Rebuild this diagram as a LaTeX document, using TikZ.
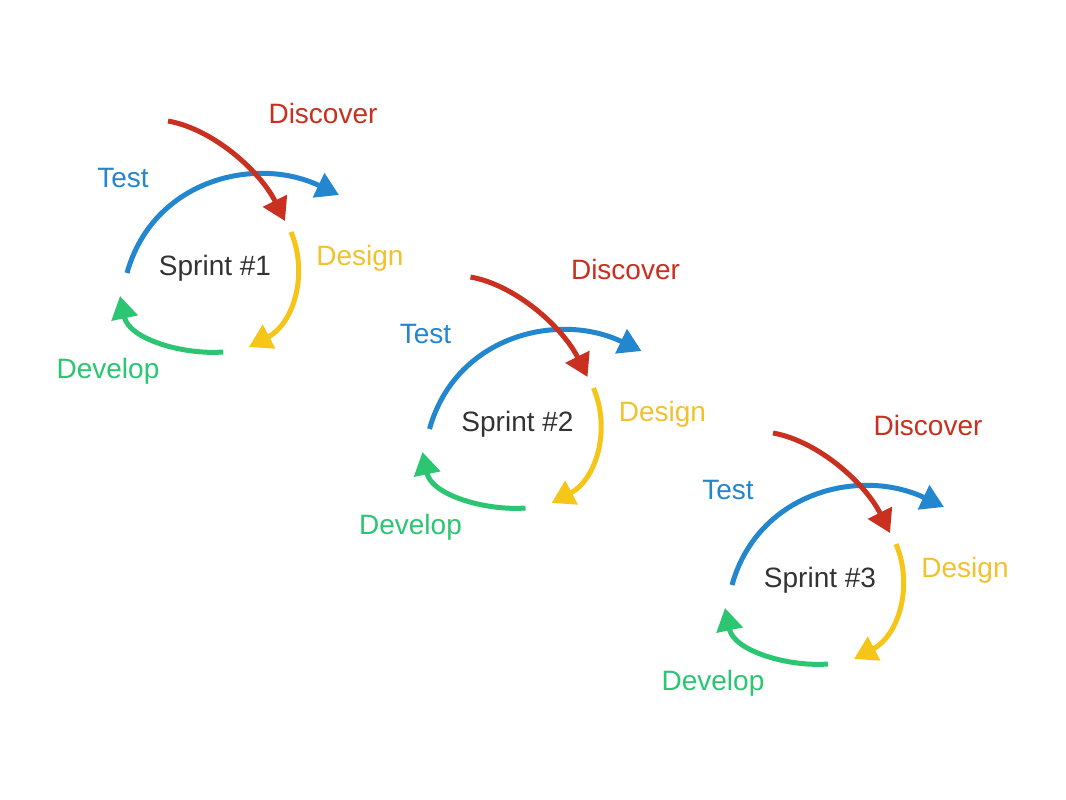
\documentclass[tikz,border=0pt]{standalone}
\usepackage{fontspec}
\setmainfont{Liberation Sans}
\usetikzlibrary{arrows.meta}

\definecolor{cRed}{HTML}{C9301F}
\definecolor{cBlue}{HTML}{2387CF}
\definecolor{cYellow}{HTML}{F5C518}
\definecolor{cYellowText}{HTML}{F2C12E}
\definecolor{cGreen}{HTML}{2CC672}
\definecolor{cDark}{HTML}{333333}

\tikzset{
  lbl/.style={font=\fontsize{21pt}{25pt}\selectfont, inner sep=0pt},
  cyc/.style={line width=3.75pt, -{Triangle[length=17pt,width=19.5pt]}},
}

\begin{document}
\begin{tikzpicture}[x=0.75pt, y=-0.75pt]
  \useasboundingbox (0,0) rectangle (1066,799);
  \fill[white] (0,0) rectangle (1066,799);

  \foreach \i in {1,2,3}{
    \begin{scope}[shift={({302.5*(\i-1)},{156*(\i-1)})}]
      % labels
      \node[lbl, text=cRed]        (disc\i)   at (323,113) {Discover};
      \node[lbl, text=cBlue]       (test\i)   at (123,178) {Test};
      \node[lbl, text=cYellowText] (design\i) at (360,258) {Design};
      \node[lbl, text=cGreen]      (dev\i)    at (108,371) {Develop};
      \node[lbl, text=cDark]       (sprint\i) at (215,268) {Sprint \#\i};

      % end points of the cycle arrows
      \coordinate (ts\i) at (127,273);  \coordinate (te\i) at (339,195);
      \coordinate (rs\i) at (168,121);  \coordinate (re\i) at (285,221);
      \coordinate (ys\i) at (291,232);  \coordinate (ye\i) at (249,347);
      \coordinate (gs\i) at (223,352);  \coordinate (ge\i) at (120,296);

      % test -> design -> develop cycle, discover arrow on top
      \draw[cyc, cBlue]   (ts\i) .. controls +(26,-93) and +(-84,-40) .. (te\i);
      \draw[cyc, cYellow] (ys\i) .. controls +(18,43) and +(44,-23) .. (ye\i);
      \draw[cyc, cGreen]  (gs\i) .. controls +(-40,3) and +(9,43) .. (ge\i);
      \draw[cyc, cRed]    (rs\i) .. controls +(45,8) and +(-25,-50) .. (re\i);
    \end{scope}
  }
\end{tikzpicture}
\end{document}
